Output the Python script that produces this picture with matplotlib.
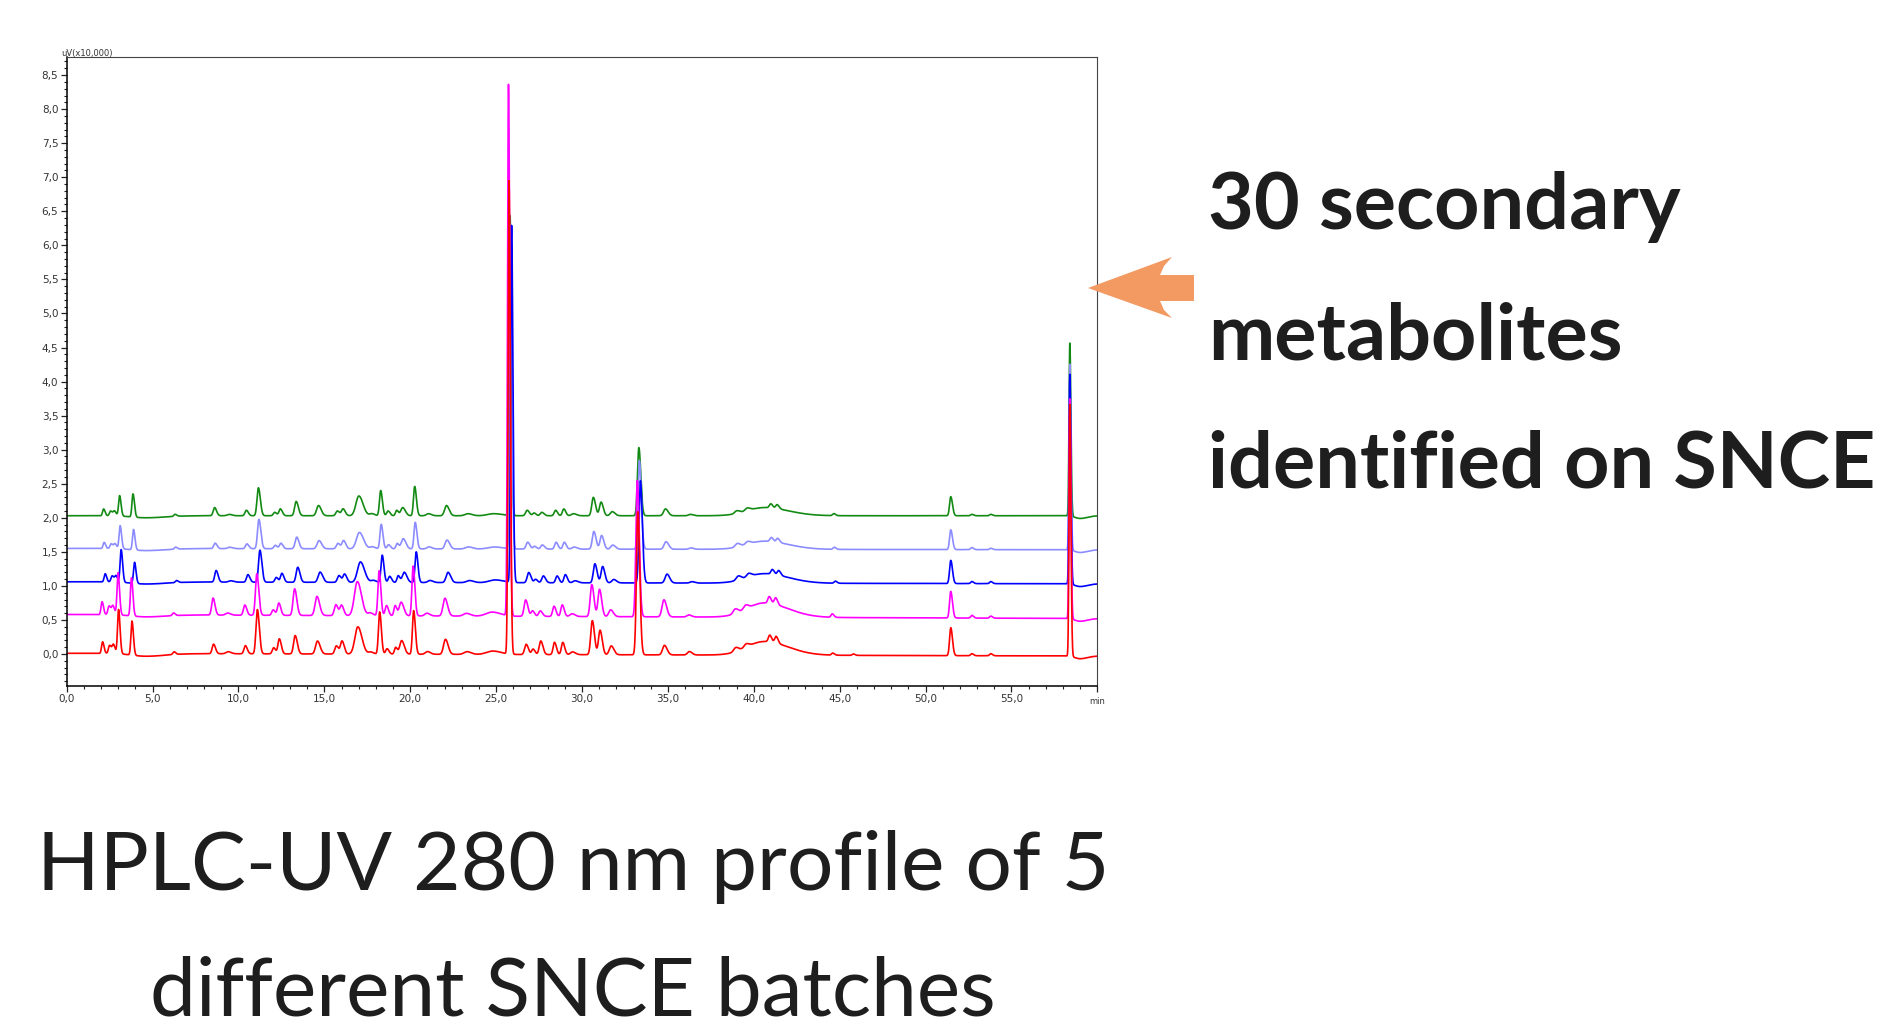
import numpy as np
import matplotlib
matplotlib.use("Agg")
import matplotlib.pyplot as plt
from matplotlib.patches import Polygon
from matplotlib.ticker import MultipleLocator, FuncFormatter

# batches (drawing order: green first, red last / on top)
batch_colors = ["#138a13", "#8c8cff", "#0000ff", "#ff00ff", "#ff0000"]
base_start = [2.03, 1.55, 1.06, 0.58, 0.01]
base_end = [2.03, 1.53, 1.03, 0.52, -0.03]
rt_shift = [0.06, 0.09, 0.15, -0.03, 0.0]

# peak table: retention time (min), width (min), heights per batch (x10,000 uV)
peak_rt = [2.09, 2.50, 2.72, 3.02, 3.80, 4.6, 6.25, 8.55, 9.4, 10.4,
           11.1, 12.05, 12.38, 13.3, 14.6, 15.7, 16.03, 16.95, 17.7, 18.22,
           18.65, 19.15, 19.5, 20.2, 21.0, 22.05, 23.3, 24.8, 25.75, 26.75,
           27.15, 27.6, 28.4, 28.88, 29.45, 30.6, 31.05, 31.7, 33.25, 34.8,
           36.25, 38.95, 39.55, 40.6, 40.93, 41.3, 44.6, 45.8, 51.47, 52.7,
           53.8, 58.4, 59.0]
peak_w = [0.06, 0.07, 0.07, 0.06, 0.06, 0.8, 0.07, 0.08, 0.12, 0.08,
          0.08, 0.08, 0.08, 0.09, 0.11, 0.09, 0.09, 0.17, 0.12, 0.07,
          0.08, 0.07, 0.11, 0.07, 0.12, 0.11, 0.17, 0.35, 0.055, 0.09,
          0.08, 0.09, 0.08, 0.08, 0.12, 0.09, 0.09, 0.11, 0.08, 0.11,
          0.11, 0.12, 0.12, 1.0, 0.08, 0.08, 0.07, 0.07, 0.07, 0.07,
          0.07, 0.045, 0.3]
peak_h = [
    [0.10, 0.09, 0.12, 0.19, 0.17],
    [0.07, 0.07, 0.09, 0.13, 0.12],
    [0.07, 0.07, 0.09, 0.13, 0.13],
    [0.30, 0.34, 0.48, 0.62, 0.65],
    [0.34, 0.30, 0.31, 0.56, 0.50],
    [-0.03, -0.03, -0.03, -0.03, -0.04],
    [0.03, 0.03, 0.03, 0.04, 0.04],
    [0.12, 0.08, 0.17, 0.25, 0.14],
    [0.02, 0.02, 0.02, 0.03, 0.03],
    [0.08, 0.07, 0.11, 0.15, 0.12],
    [0.41, 0.43, 0.47, 0.61, 0.65],
    [0.05, 0.05, 0.07, 0.08, 0.09],
    [0.10, 0.08, 0.13, 0.18, 0.22],
    [0.21, 0.17, 0.22, 0.39, 0.27],
    [0.15, 0.12, 0.15, 0.28, 0.19],
    [0.07, 0.08, 0.10, 0.16, 0.12],
    [0.10, 0.12, 0.12, 0.15, 0.19],
    [0.29, 0.24, 0.30, 0.50, 0.40],
    [0.03, 0.03, 0.03, 0.04, 0.03],
    [0.37, 0.36, 0.40, 0.66, 0.62],
    [0.07, 0.06, 0.09, 0.15, 0.08],
    [0.08, 0.08, 0.10, 0.15, 0.10],
    [0.12, 0.15, 0.15, 0.20, 0.20],
    [0.43, 0.39, 0.45, 0.73, 0.64],
    [0.03, 0.03, 0.03, 0.04, 0.04],
    [0.15, 0.13, 0.15, 0.26, 0.22],
    [0.03, 0.03, 0.03, 0.04, 0.04],
    [0.03, 0.03, 0.04, 0.06, 0.05],
    [4.40, 4.75, 5.24, 7.80, 6.95],
    [0.08, 0.10, 0.15, 0.24, 0.15],
    [0.04, 0.04, 0.05, 0.08, 0.08],
    [0.05, 0.06, 0.10, 0.08, 0.20],
    [0.08, 0.10, 0.10, 0.15, 0.18],
    [0.10, 0.10, 0.12, 0.17, 0.18],
    [0.03, 0.03, 0.03, 0.04, 0.04],
    [0.27, 0.26, 0.28, 0.47, 0.50],
    [0.20, 0.20, 0.24, 0.40, 0.36],
    [0.06, 0.06, 0.05, 0.10, 0.13],
    [1.00, 1.30, 1.50, 2.00, 2.10],
    [0.10, 0.11, 0.13, 0.25, 0.14],
    [0.02, 0.02, 0.02, 0.03, 0.05],
    [0.04, 0.05, 0.06, 0.07, 0.06],
    [0.04, 0.04, 0.05, 0.06, 0.05],
    [0.12, 0.12, 0.14, 0.21, 0.20],
    [0.06, 0.06, 0.07, 0.10, 0.10],
    [0.06, 0.06, 0.07, 0.10, 0.10],
    [0.03, 0.03, 0.03, 0.05, 0.03],
    [0.00, 0.00, 0.00, 0.00, 0.02],
    [0.28, 0.29, 0.34, 0.39, 0.41],
    [0.02, 0.03, 0.03, 0.04, 0.03],
    [0.02, 0.02, 0.03, 0.03, 0.03],
    [2.54, 2.73, 3.08, 3.23, 3.70],
    [-0.04, -0.04, -0.04, -0.04, -0.04],
]

y_ticks = [i * 0.5 for i in range(18)]
x_ticks = [i * 5 for i in range(12)]

W, H = 1888, 1027


def px(x, y):
    # pixel (from top-left) -> figure fraction
    return x / W, 1 - y / H


def trace(t, k):
    y = base_start[k] + (base_end[k] - base_start[k]) * t / 60.0
    for rt, w, h in zip(peak_rt, peak_w, peak_h):
        # batches drift a little in the middle of the run only
        c = rt + rt_shift[k] if (w < 0.5 and rt < 50) else rt
        s = np.where(t < c, w, w * 1.4)  # slight tailing
        y = y + h[k] * np.exp(-0.5 * ((t - c) / s) ** 2)
    return y


fig = plt.figure(figsize=(W / 100, H / 100), dpi=100)
ax = fig.add_axes([66.7 / W, 1 - 686 / H, (1097.3 - 66.7) / W, (686 - 56.7) / H])

t = np.linspace(0, 60, 12001)
for k, col in enumerate(batch_colors):
    ax.plot(t, trace(t, k), color=col, lw=1.2)

ax.set_xlim(0, 60)
ax.set_ylim(-0.47, 8.77)
ax.set_xticks(x_ticks + [60])
ax.xaxis.set_major_formatter(FuncFormatter(lambda v, p: "" if v >= 60 else f"{v:.1f}".replace(".", ",")))
ax.xaxis.set_minor_locator(MultipleLocator(1))
ax.set_yticks(y_ticks)
ax.yaxis.set_major_formatter(FuncFormatter(lambda v, p: f"{v:.1f}".replace(".", ",")))
ax.yaxis.set_minor_locator(MultipleLocator(0.1))
ax.tick_params(which="major", length=4, width=0.9, labelsize=7.5, colors="#222", labelcolor="#333", pad=2)
ax.tick_params(which="minor", length=2.2, width=0.8, colors="#222")
for s in ["left", "bottom"]:
    ax.spines[s].set_linewidth(1.1)
for s in ["top", "right"]:
    ax.spines[s].set_linewidth(0.8)
    ax.spines[s].set_color("#444")

fig.text(*px(61, 56), "uV(x10,000)", fontsize=6, color="#333", va="baseline")
fig.text(*px(1089, 704), "min", fontsize=6, color="#333", va="baseline")

# orange arrow pointing at the chart
arrow_px = [(1088, 288), (1172, 257), (1164, 266), (1160, 275), (1194, 275),
            (1194, 301), (1160, 301), (1164, 310), (1172, 318)]
fig.patches.append(Polygon([px(x, y) for x, y in arrow_px], closed=True,
                           transform=fig.transFigure, facecolor="#f29a62", edgecolor="none"))

txt = "#1e1e1e"
for line, yb in zip(["30 secondary", "metabolites", "identified on SNCE"], [229, 359, 488]):
    fig.text(*px(1208, yb), line, fontsize=57, fontweight="bold", family="Lato", color=txt, va="baseline")

for line, yb in zip(["HPLC-UV 280 nm profile of 5", "different SNCE batches"], [890, 1015]):
    fig.text(*px(573, yb), line, fontsize=59, family="Lato", color=txt, va="baseline", ha="center")

fig.savefig("out.png", dpi=100)
